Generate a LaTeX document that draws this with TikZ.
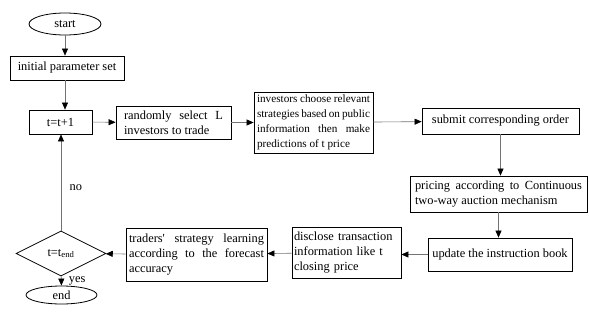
\documentclass[tikz,border=0pt]{standalone}
\usepackage{fontspec}
\setmainfont{Liberation Serif}
\usepackage{tikz}
\usetikzlibrary{shapes.geometric, arrows.meta}

\begin{document}
\begin{tikzpicture}[
    x=1pt, y=-1pt,
    font=\fontsize{12.4}{15}\selectfont,
    box/.style={draw=black, line width=0.8pt, inner xsep=3pt, inner ysep=0pt, align=center},
    para/.style={box, align=justify},
    term/.style={ellipse, draw=black, line width=0.8pt, inner sep=0pt},
    arr/.style={draw=black!55, line width=0.6pt, -{Triangle[length=7pt, width=6pt, color=black]}}
]
    \useasboundingbox (0,0) rectangle (589,321);

    % Terminals and decision
    \node[term, minimum width=72pt, minimum height=22pt] (start) at (65, 24) {start};
    \node[term, minimum width=71pt, minimum height=18pt] (end) at (61.5, 295) {end};
    \node[diamond, draw=black, line width=0.8pt, inner sep=0pt, aspect=2,
          minimum width=90pt, minimum height=45pt] (check) at (61, 253.5) {t=t\textsubscript{end}};

    % Upper row
    \node[box, minimum width=114pt, minimum height=24pt] (init) at (67, 68) {initial parameter set};
    \node[box, minimum width=63pt, minimum height=24pt] (tstep) at (60.5, 122) {t=t+1};
    \node[para, text width=99pt, minimum height=33pt, inner xsep=8pt] (select) at (173.5, 122.5)
        {randomly select L\linebreak investors to trade};
    \node[para, text width=113pt, minimum height=61pt, font=\fontsize{11.2}{15}\selectfont] (choose) at (313.5, 122.5)
        {investors choose relevant\linebreak strategies based on public\linebreak information then make\linebreak predictions of t price};
    \node[box, minimum width=157pt, minimum height=26pt] (submit) at (500.5, 121)
        {submit corresponding order};

    % Right column and lower row
    \node[para, text width=167pt, minimum height=36pt, inner xsep=5pt] (pricing) at (498.5, 194)
        {pricing according to Continuous\linebreak two-way auction mechanism};
    \node[box, minimum width=144pt, minimum height=33pt] (update) at (500, 254.5)
        {update the instruction book};
    \node[box, text width=105pt, minimum height=51pt, inner xsep=2pt, align=left] (disclose) at (346.5, 252.5)
        {disclose transaction\\ information like t\\ closing price};
    \node[para, text width=135pt, minimum height=53pt] (learn) at (196.5, 254.5)
        {traders\textquotesingle\ strategy learning\linebreak according to the forecast\linebreak accuracy};

    % Connectors
    \draw[arr] (start) -- (start |- init.north);
    \draw[arr] (init.south -| start) -- (start |- tstep.north);
    \draw[arr] (tstep) -- (select);
    \draw[arr] (select) -- (choose);
    \draw[arr] (choose) -- (submit);
    \draw[arr] (submit) -- (submit |- pricing.north);
    \draw[arr] (pricing) -- (pricing |- update.north);
    \draw[arr] (update) -- (update -| disclose.east);
    \draw[arr] (disclose) -- (learn);
    \draw[arr] (learn) -- (check);
    \draw[arr] (check) -- (check |- tstep.south) node[pos=0.45, right=5pt] {no};
    \draw[arr] (check) -- (end) node[midway, right=4pt] {yes};

\end{tikzpicture}
\end{document}
